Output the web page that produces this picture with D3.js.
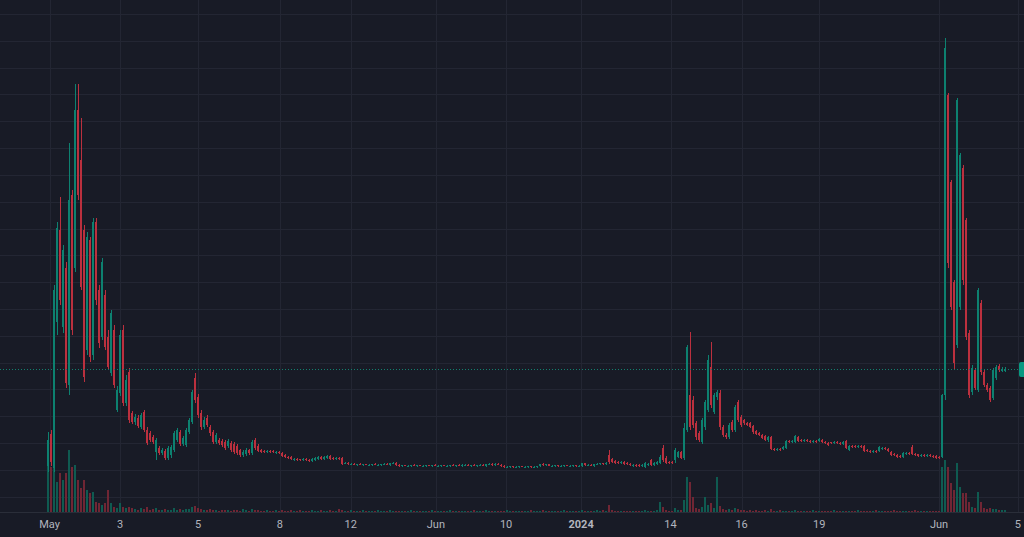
<!DOCTYPE html>
<html><head><meta charset="utf-8">
<script src="https://cdn.jsdelivr.net/npm/d3@7"></script>
<style>html,body{margin:0;padding:0;background:#181b26;overflow:hidden}svg{display:block}</style>
</head><body><svg id="c" width="1024" height="537"></svg>
<script>
// price in sats, one candle per period: [open, high, low, close]
const candles = [
[34,68,28,60],[66,70,34,38],[32,215,28,210],[178,278,165,272],[270,303,195,200],[173,255,167,250],[232,238,112,117],[115,357,105,300],[305,310,165,170],[232,416,228,390],
[390,416,300,305],[340,382,210,213],[270,275,118,123],[150,268,145,263],[260,263,138,143],[145,282,140,278],[278,282,195,200],[210,215,152,157],[163,242,160,238],[205,210,150,153],
[163,170,130,133],[127,190,124,187],[170,175,112,115],[90,114,88,110],[107,170,104,165],[170,175,94,97],[97,125,94,120],[128,132,77,80],[87,89,76,78],[78,86,75,83],
[82,85,72,74],[73,87,71,85],[88,90,68,70],[70,73,55,57],[67,69,58,60],[63,65,56,58],[48,62,40,60],[52,54,45,47],[47,52,45,50],[49,51,40,42],
[42,54,40,52],[45,55,42,53],[50,69,48,67],[60,72,58,70],[68,70,54,56],[56,64,54,62],[55,72,53,70],[68,82,66,80],[78,110,76,108],[122,127,97,100],
[103,106,82,85],[87,90,70,73],[73,83,71,80],[82,85,73,75],[73,75,64,67],[68,70,56,58],[58,67,56,65],[60,62,55,57],[59,61,53,55],[58,60,50,52],
[54,61,52,59],[57,59,48,50],[56,58,46,48],[54,56,45,47],[50,51,43,45],[45,50,43,48],[46,52,44,50],[50,51,45,47],[47,60,45,58],[60,62,50,52],
[54,56,48,49],[50,51,47,48],[49,50,47,48],[48,50,47,49],[49,50,47,48],[49,50,47,48],[47,49,46,48],[48,49,46,47],[47,48,43,44],[45,46,42,43],
[43,44,41,42],[43,44,40,41],[40,42,39,41],[41,42,39,40],[41,41,39,40],[40,42,39,41],[41,42,39,40],[40,41,38,39],[39,42,38,41],[40,43,39,42],
[41,44,40,43],[43,44,40,41],[41,44,40,43],[42,45,41,44],[44,45,40,41],[42,43,40,41],[41,43,40,42],[42,43,40,41],[42,43,35,36],[37,38,36,37],
[37,38,35,36],[36,37,35,36],[36,37,35,35],[35,36,34,36],[36,37,35,35],[35,36,34,36],[36,36,35,35],[35,36,34,35],[35,36,34,36],[36,37,35,35],
[35,36,34,35],[35,36,34,36],[36,37,35,36],[36,37,35,35],[35,37,34,37],[37,38,36,37],[37,38,34,35],[35,36,33,34],[34,35,33,35],[35,35,34,34],
[34,35,33,34],[34,35,33,35],[35,36,34,34],[34,35,33,35],[35,35,34,34],[34,35,33,34],[34,35,33,35],[35,35,34,34],[34,35,33,35],[35,36,34,34],
[34,35,33,34],[34,35,33,35],[35,35,34,34],[34,35,33,34],[34,35,33,35],[35,36,34,34],[34,35,33,35],[35,36,34,34],[34,36,33,35],[35,36,34,35],
[35,36,34,34],[34,35,33,35],[35,36,34,34],[34,35,33,35],[35,36,34,35],[35,36,34,34],[34,36,33,36],[36,37,35,36],[36,37,34,35],[35,37,34,36],
[36,37,35,35],[35,36,33,34],[34,35,32,33],[33,34,32,33],[33,34,32,34],[34,34,32,33],[33,34,32,33],[33,34,32,34],[34,34,33,33],[33,34,32,33],
[33,34,32,34],[34,34,32,33],[33,34,32,33],[33,34,32,34],[34,36,33,36],[36,37,34,35],[35,36,34,36],[36,36,34,34],[34,35,33,34],[34,35,33,35],
[35,35,33,34],[34,35,33,34],[34,35,33,35],[35,35,34,34],[34,35,33,34],[34,35,33,35],[35,35,33,34],[34,35,33,34],[34,37,33,37],[37,37,34,35],
[35,36,34,35],[35,36,34,34],[34,36,33,36],[36,37,35,36],[36,37,35,37],[37,37,35,36],[36,38,35,37],[45,50,36,38],[41,42,37,38],[39,40,36,37],
[38,39,36,37],[37,39,36,38],[38,39,35,36],[37,38,35,36],[36,37,34,35],[34,36,33,35],[35,36,33,34],[35,36,33,34],[34,36,33,35],[33,38,32,37],
[35,37,34,36],[40,41,34,35],[35,38,34,37],[36,39,35,38],[37,45,36,43],[52,55,38,40],[42,44,36,37],[38,39,36,37],[38,39,36,37],[40,52,37,50],
[43,49,42,48],[48,49,41,42],[42,77,40,72],[70,155,68,153],[105,168,70,73],[100,104,72,75],[77,79,60,63],[67,69,58,60],[58,82,56,80],[73,100,70,98],
[90,145,88,140],[133,158,92,95],[88,107,86,105],[103,110,100,108],[107,110,70,73],[73,75,63,65],[65,67,61,63],[63,77,61,75],[78,80,68,70],[70,95,68,93],
[98,100,78,80],[83,85,73,75],[80,81,75,77],[77,78,74,75],[77,78,72,73],[74,75,66,68],[69,70,65,66],[67,68,64,65],[65,66,61,62],[64,65,59,60],
[60,64,58,63],[63,64,50,51],[51,52,49,50],[50,52,49,51],[51,52,49,50],[51,54,50,53],[52,60,51,59],[59,60,57,58],[58,60,57,59],[58,65,57,64],
[63,64,58,59],[60,61,58,59],[59,61,58,60],[60,61,58,59],[59,60,57,58],[58,60,57,59],[59,60,57,58],[59,62,58,61],[60,61,57,58],[58,59,56,57],
[57,58,54,55],[58,58,56,57],[57,59,56,58],[58,59,56,57],[57,58,55,56],[56,59,55,58],[59,60,51,52],[50,55,49,54],[54,55,52,53],[54,55,52,53],
[53,55,52,54],[54,55,52,53],[54,55,48,49],[50,51,48,49],[49,50,47,48],[48,50,47,49],[49,50,47,48],[49,54,48,53],[51,53,50,52],[52,53,50,51],
[51,52,48,49],[48,49,44,45],[46,47,44,45],[45,46,42,43],[44,45,42,43],[43,48,42,47],[46,48,45,47],[47,48,45,46],[53,55,45,46],[46,47,44,45],
[46,46,43,44],[44,46,43,45],[45,46,43,44],[44,46,43,45],[45,46,43,44],[44,45,42,43],[44,45,41,42],[43,44,41,42],[43,106,42,105],[105,462,100,452],
[405,407,232,237],[318,320,190,193],[218,220,130,137],[155,402,152,400],[193,347,190,345],[332,335,215,220],[280,282,160,163],[167,170,102,105],[108,135,105,132],[130,132,110,112],
[110,212,108,210],[197,200,125,128],[128,130,113,115],[115,117,108,110],[112,114,98,100],[102,132,100,130],[122,135,120,133],[134,136,128,130],[129,133,128,131],[129,133,128,131]
];
// volume per candle (thousands)
const volumes = [
47,45,60,30,39,32,39,62,45,47,32,24,32,22,19,20,10,9,7,9,22,9,5,4,9,5,4,5,4,
3,2,4,3,5,2,3,4,2,2,3,2,2,4,2,3,2,3,3,5,6,4,3,2,2,3,2,2,1,2,2,
2,1,2,2,1,3,2,1,3,2,2,1,1,2,1,1,2,1,2,1,1,2,1,1,2,1,1,1,2,1,1,2,1,1,2,1,1,3,2,
1,1,2,1,1,1,2,1,1,1,1,2,1,1,1,2,1,1,1,1,1,1,2,1,1,1,1,1,1,2,1,1,1,1,1,2,1,1,1,1,1,1,1,2,1,1,1,2,1,1,1,1,1,1,2,1,1,1,1,1,1,1,2,1,1,1,2,1,1,1,1,1,1,2,1,1,1,1,1,2,1,1,1,1,2,1,2,1,
7,
2,1,1,1,1,1,1,1,1,1,1,2,1,1,1,2,
10,5,2,1,1,4,2,2,12,35,30,15,4,3,5,15,7,9,4,35,6,3,2,3,2,4,3,
2,2,1,2,1,2,1,1,2,1,3,
1,1,2,1,1,1,1,2,1,1,1,1,1,2,1,1,1,1,1,1,2,1,1,1,1,1,1,1,2,1,1,1,1,1,2,1,1,1,1,1,2,1,1,1,1,1,1,2,1,1,1,1,1,1,1,1,
45,52,45,29,22,49,25,19,19,10,5,4,20,10,4,3,4,3,3,2,2,2
];
// time-axis labels and their position on the candle index
const tickLabels = ["May","3","5","8","12","Jun","10","2024","14","16","19","Jun","5"];
const tickPos = [0.5, 24, 50, 77.3, 100.9, 129.3, 152.7, 177.7, 207.5, 231.2, 257.1, 297, 323.3];
const boldLabels = ["2024"];

const W = 1024, H = 537, plotBottom = 512;
const upColor = "#0d8170", downColor = "#bb303e";
const upVol = "#0f5b51", downVol = "#702634";
const svg = d3.select("#c");
svg.append("rect").attr("width", W).attr("height", H).attr("fill", "#181b26");

const n = Math.min(candles.length, volumes.length);
const x = d3.scaleLinear().domain([0, 319]).range([48, 1005]);
const y = d3.scaleLinear().domain([0, 500]).range([500, 0]);
const vh = d3.scaleLinear().domain([0, 100]).range([0, 100]);

const g = svg.append("g").attr("shape-rendering", "crispEdges");
// horizontal grid
const gridPrices = d3.range(0, 19).map(k => 486 - 26.82 * k);
g.selectAll(".hg").data(gridPrices).join("line")
  .attr("x1", 0).attr("x2", W)
  .attr("y1", d => Math.round(y(d)) + 0.5).attr("y2", d => Math.round(y(d)) + 0.5)
  .attr("stroke", "#232633").attr("stroke-width", 1);
// vertical grid
g.selectAll(".vg").data(tickPos).join("line")
  .attr("x1", d => Math.round(x(d)) + 0.5).attr("x2", d => Math.round(x(d)) + 0.5)
  .attr("y1", 0).attr("y2", plotBottom)
  .attr("stroke", "#232633").attr("stroke-width", 1);

const data = d3.range(n).map(i => ({i, o: candles[i][0], h: candles[i][1], l: candles[i][2], c: candles[i][3], v: volumes[i]}));

// volume
g.selectAll(".vol").data(data).join("rect")
  .attr("x", d => Math.round(x(d.i)) - 1).attr("width", 2)
  .attr("y", d => plotBottom - Math.max(1, Math.round(vh(d.v))))
  .attr("height", d => Math.max(1, Math.round(vh(d.v))))
  .attr("fill", d => d.c >= d.o ? upVol : downVol);

// wicks
g.selectAll(".wick").data(data).join("rect")
  .attr("x", d => Math.round(x(d.i))).attr("width", 1)
  .attr("y", d => Math.round(y(d.h)))
  .attr("height", d => Math.max(1, Math.round(y(d.l)) - Math.round(y(d.h))))
  .attr("fill", d => d.c >= d.o ? upColor : downColor);
// bodies
g.selectAll(".body").data(data).join("rect")
  .attr("x", d => Math.round(x(d.i)) - 1).attr("width", 2)
  .attr("y", d => Math.round(y(Math.max(d.o, d.c))))
  .attr("height", d => Math.max(1, Math.round(y(Math.min(d.o, d.c))) - Math.round(y(Math.max(d.o, d.c)))))
  .attr("fill", d => d.c >= d.o ? upColor : downColor);

// last price line and label
const last = data[n - 1];
const ly = Math.round(y(last.c)) + 0.5;
svg.append("line").attr("x1", 0).attr("x2", 1019).attr("y1", ly).attr("y2", ly)
  .attr("stroke", "#12806e").attr("stroke-width", 1).attr("stroke-dasharray", "1,2");
svg.append("rect").attr("x", 1019).attr("y", ly - 7.5).attr("width", 10).attr("height", 15)
  .attr("rx", 2).attr("fill", "#089981");

// axis separator
svg.append("line").attr("x1", 0).attr("x2", W).attr("y1", plotBottom + 0.5).attr("y2", plotBottom + 0.5)
  .attr("stroke", "#2a2e39").attr("shape-rendering", "crispEdges");

// time labels
svg.selectAll(".tl").data(tickLabels).join("text")
  .attr("x", (d, k) => x(tickPos[k])).attr("y", 528)
  .attr("text-anchor", "middle")
  .attr("font-family", "Roboto, 'Noto Sans', sans-serif")
  .attr("font-size", 11)
  .attr("font-weight", d => boldLabels.includes(d) ? "bold" : "normal")
  .attr("fill", "#b2b5be")
  .text(d => d);
</script>
</body></html>
